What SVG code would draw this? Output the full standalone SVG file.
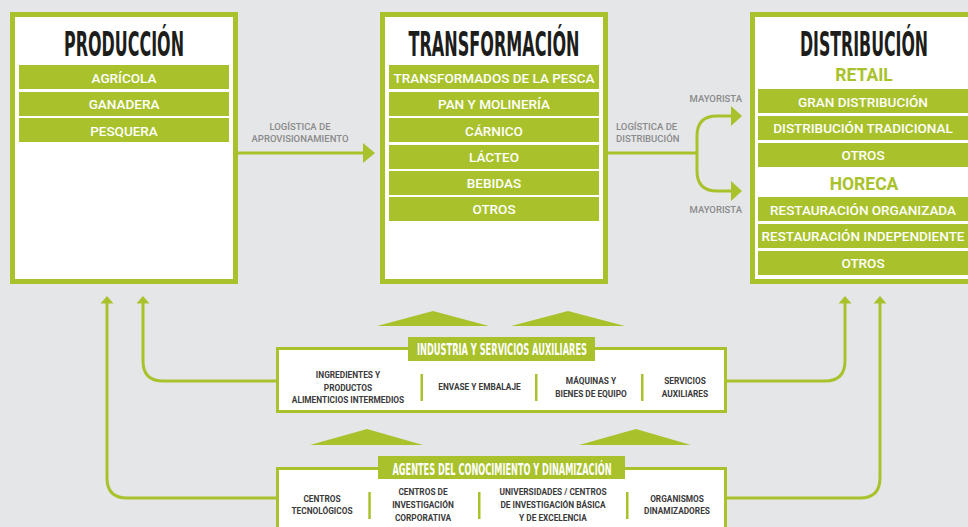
<svg xmlns="http://www.w3.org/2000/svg" width="968" height="527" viewBox="0 0 968 527">
<style>
.bg{fill:#e5e6e8}
.box{fill:#fff;stroke:#a9c22c;stroke-width:5}
.sbox{fill:#fff;stroke:#a9c22c;stroke-width:3}
.bar{fill:#a9c22c}
.btxt{font-family:Roboto,"Liberation Sans",sans-serif;font-weight:500;font-size:13.5px;fill:#fff;text-anchor:middle}
.title{font-family:"Liberation Sans Narrow","DejaVu Sans Condensed","Liberation Sans",sans-serif;font-weight:bold;font-size:33px;fill:#1d1d1b;text-anchor:middle}
.sub{font-family:Roboto,"Liberation Sans",sans-serif;font-weight:bold;font-size:17.5px;fill:#a9c22c;text-anchor:middle}
.hdr{font-family:"Liberation Sans Narrow","DejaVu Sans Condensed","Liberation Sans",sans-serif;font-weight:bold;font-size:16.5px;fill:#fff;text-anchor:middle}
.lbl{font-family:Roboto,"Liberation Sans",sans-serif;font-weight:500;font-size:9.5px;fill:#8a8a8a}
.sm{font-family:Roboto,"Liberation Sans",sans-serif;font-weight:bold;font-size:8.3px;fill:#3a3a3a;text-anchor:middle}
.ln{fill:none;stroke:#a9c22c;stroke-width:3}
.ah{fill:#a9c22c}
</style>
<rect class="bg" x="0" y="0" width="968" height="527"/>

<g id="produccion">
<rect class="box" x="12.5" y="14.5" width="223" height="267"/>
<text class="title" transform="translate(124,55.5) scale(0.5,1)" x="0" y="0" textLength="240" lengthAdjust="spacingAndGlyphs">PRODUCCIÓN</text>
<rect class="bar" x="19" y="65" width="210" height="24"/>
<text class="btxt" x="124" y="83">AGRÍCOLA</text>
<rect class="bar" x="19" y="92" width="210" height="24"/>
<text class="btxt" x="124" y="109">GANADERA</text>
<rect class="bar" x="19" y="118" width="210" height="24"/>
<text class="btxt" x="124" y="136">PESQUERA</text>
</g>

<g id="transformacion">
<rect class="box" x="382.5" y="14.5" width="223" height="267"/>
<text class="title" transform="translate(494,55.5) scale(0.5,1)" x="0" y="0" textLength="342" lengthAdjust="spacingAndGlyphs">TRANSFORMACIÓN</text>
<rect class="bar" x="389" y="65" width="210" height="24"/>
<text class="btxt" x="494" y="83">TRANSFORMADOS DE LA PESCA</text>
<rect class="bar" x="389" y="92" width="210" height="24"/>
<text class="btxt" x="494" y="109">PAN Y MOLINERÍA</text>
<rect class="bar" x="389" y="118" width="210" height="24"/>
<text class="btxt" x="494" y="136">CÁRNICO</text>
<rect class="bar" x="389" y="145" width="210" height="24"/>
<text class="btxt" x="494" y="162">LÁCTEO</text>
<rect class="bar" x="389" y="171" width="210" height="24"/>
<text class="btxt" x="494" y="188">BEBIDAS</text>
<rect class="bar" x="389" y="197" width="210" height="24"/>
<text class="btxt" x="494" y="214">OTROS</text>
</g>

<g id="distribucion">
<rect x="752.5" y="14.5" width="215.5" height="267" fill="#fff"/>
<path d="M968,14.5 H752.5 V281.5 H968" fill="none" stroke="#a9c22c" stroke-width="5"/>
<text class="title" transform="translate(864,55.5) scale(0.5,1)" x="0" y="0" textLength="256" lengthAdjust="spacingAndGlyphs">DISTRIBUCIÓN</text>
<text class="sub" x="864" y="80.5">RETAIL</text>
<rect class="bar" x="758" y="89" width="210" height="24"/>
<text class="btxt" x="863" y="107">GRAN DISTRIBUCIÓN</text>
<rect class="bar" x="758" y="116" width="210" height="24"/>
<text class="btxt" x="863" y="133">DISTRIBUCIÓN TRADICIONAL</text>
<rect class="bar" x="758" y="143" width="210" height="24"/>
<text class="btxt" x="863" y="160">OTROS</text>
<text class="sub" x="864" y="190">HORECA</text>
<rect class="bar" x="758" y="197" width="210" height="24"/>
<text class="btxt" x="863" y="215">RESTAURACIÓN ORGANIZADA</text>
<rect class="bar" x="758" y="224" width="210" height="24"/>
<text class="btxt" x="863" y="241">RESTAURACIÓN INDEPENDIENTE</text>
<rect class="bar" x="758" y="251" width="210" height="24"/>
<text class="btxt" x="863" y="268">OTROS</text>
</g>

<g id="connectors">
<path class="ln" d="M238,153 H365"/>
<polygon class="ah" points="363,143 375,153 363,163"/>
<path class="ln" d="M608,153 H697"/>
<path class="ln" d="M697,153 V136 Q697,116 717,116 H733"/>
<polygon class="ah" points="731,106 742,116 731,126"/>
<path class="ln" d="M697,153 V171 Q697,191 717,191 H733"/>
<polygon class="ah" points="731,181 742,191 731,201"/>
<path class="ln" d="M276,498 H127 Q107,498 107,478 V302"/>
<polygon class="ah" points="100.5,303.5 113.5,303.5 107,296"/>
<path class="ln" d="M276,381 H163 Q143,381 143,361 V302"/>
<polygon class="ah" points="136.5,303.5 149.5,303.5 143,296"/>
<path class="ln" d="M727,381 H825 Q845,381 845,361 V302"/>
<polygon class="ah" points="838.5,303.5 851.5,303.5 845,296"/>
<path class="ln" d="M727,498 H860 Q880,498 880,478 V302"/>
<polygon class="ah" points="873.5,303.5 886.5,303.5 880,296"/>
<polygon class="ah" points="377,326 433,311 489,326"/>
<polygon class="ah" points="511,326 568,311 625,326"/>
<polygon class="ah" points="310,445 367,429 423,445"/>
<polygon class="ah" points="579,445 636,429 691,445"/>
</g>

<g id="labels">
<text class="lbl" x="300" y="130" text-anchor="middle">LOGÍSTICA DE</text>
<text class="lbl" x="300" y="142" text-anchor="middle">APROVISIONAMIENTO</text>
<text class="lbl" x="616" y="130">LOGÍSTICA DE</text>
<text class="lbl" x="616" y="142">DISTRIBUCIÓN</text>
<text class="lbl" x="742" y="102" text-anchor="end" font-weight="bold" font-size="9px">MAYORISTA</text>
<text class="lbl" x="742" y="213" text-anchor="end" font-weight="bold" font-size="9px">MAYORISTA</text>
</g>

<g id="industria">
<rect class="sbox" x="277.5" y="348.5" width="448" height="63"/>
<rect class="bar" x="408" y="337" width="187" height="24"/>
<text class="hdr" x="502" y="355" textLength="170" lengthAdjust="spacingAndGlyphs">INDUSTRIA Y SERVICIOS AUXILIARES</text>
<rect class="bar" x="420.5" y="374" width="2.5" height="27"/>
<rect class="bar" x="535" y="374" width="2.5" height="27"/>
<rect class="bar" x="641" y="374" width="2.5" height="27"/>
<text class="sm" x="348" y="378">INGREDIENTES Y</text>
<text class="sm" x="348" y="390.5">PRODUCTOS</text>
<text class="sm" x="348" y="403">ALIMENTICIOS INTERMEDIOS</text>
<text class="sm" x="479.5" y="390">ENVASE Y EMBALAJE</text>
<text class="sm" x="591" y="384">MÁQUINAS Y</text>
<text class="sm" x="591" y="397">BIENES DE EQUIPO</text>
<text class="sm" x="685" y="384">SERVICIOS</text>
<text class="sm" x="685" y="397">AUXILIARES</text>
</g>

<g id="agentes">
<rect class="sbox" x="277.5" y="468.5" width="448" height="80"/>
<rect class="bar" x="378" y="456" width="247" height="23"/>
<text class="hdr" x="502" y="474.5" textLength="219" lengthAdjust="spacingAndGlyphs">AGENTES DEL CONOCIMIENTO Y DINAMIZACIÓN</text>
<rect class="bar" x="368.3" y="492" width="2.5" height="27"/>
<rect class="bar" x="478" y="492" width="2.5" height="27"/>
<rect class="bar" x="626" y="492" width="2.5" height="27"/>
<text class="sm" x="322" y="502">CENTROS</text>
<text class="sm" x="322" y="514">TECNOLÓGICOS</text>
<text class="sm" x="423" y="495">CENTROS DE</text>
<text class="sm" x="423" y="508">INVESTIGACIÓN</text>
<text class="sm" x="423" y="521">CORPORATIVA</text>
<text class="sm" x="553" y="495">UNIVERSIDADES / CENTROS</text>
<text class="sm" x="553" y="508">DE INVESTIGACIÓN BÁSICA</text>
<text class="sm" x="553" y="521">Y DE EXCELENCIA</text>
<text class="sm" x="677" y="502">ORGANISMOS</text>
<text class="sm" x="677" y="514">DINAMIZADORES</text>
</g>
</svg>
